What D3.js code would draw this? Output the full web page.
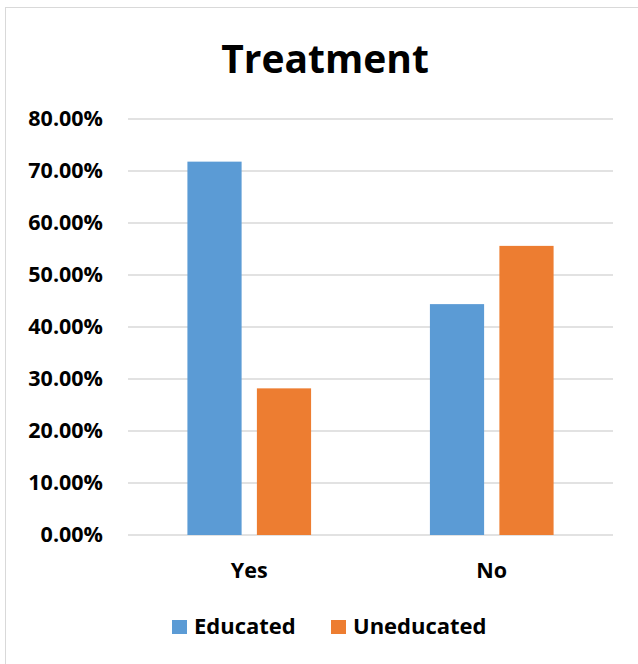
<!DOCTYPE html>
<html><head><meta charset="utf-8">
<script src="https://cdn.jsdelivr.net/npm/d3@7"></script>
<style>body{margin:0;background:#fff;} svg{display:block;}</style>
</head><body>
<svg id="chart" width="638" height="664"></svg>
<script>
const categories = ["Yes", "No"];
const seriesNames = ["Educated", "Uneducated"];
const educated = [0.718, 0.444];
const uneducated = [0.282, 0.556];
const yTicks = [0, 0.1, 0.2, 0.3, 0.4, 0.5, 0.6, 0.7, 0.8];
const colors = ["#5B9BD5", "#ED7D31"];
const title = "Treatment";

const FONT = "'Open Sans', Lato, sans-serif";
const svg = d3.select("#chart");
svg.append("rect").attr("x", 5.5).attr("y", 7.5).attr("width", 640).attr("height", 670)
  .attr("fill", "#fff").attr("stroke", "#d9d9d9").attr("stroke-width", 1);

const x0 = d3.scaleBand().domain(categories).range([128, 613]).paddingInner(0.49).paddingOuter(0.245);
const x1 = d3.scaleBand().domain(seriesNames).range([0, x0.bandwidth()]).paddingInner(0.22);
const y = d3.scaleLinear().domain([0, 0.8]).range([535, 119]);

// gridlines
svg.append("g").selectAll("line").data(yTicks).join("line")
  .attr("x1", 128).attr("x2", 613)
  .attr("y1", d => y(d)).attr("y2", d => y(d))
  .attr("stroke", "#d9d9d9").attr("stroke-width", 1.5);

// y axis
const yAxis = d3.axisLeft(y).tickValues(yTicks).tickFormat(d3.format(".2%")).tickSize(0).tickPadding(0);
const ga = svg.append("g").attr("transform", "translate(103,0)").call(yAxis);
ga.select(".domain").remove();
ga.selectAll("text").attr("font-family", FONT).attr("font-weight", "bold").attr("font-size", 21.5).attr("fill", "#000");

// x axis
const xAxis = d3.axisBottom(x0).tickSize(0).tickPadding(0);
const gx = svg.append("g").attr("transform", "translate(0,535)").call(xAxis);
gx.select(".domain").remove();
gx.selectAll("text").attr("font-family", FONT).attr("font-weight", "bold").attr("font-size", 21.5).attr("fill", "#000")
  .attr("dy", null).attr("y", 43);

// bars
const data = categories.map((c, i) => ({cat: c, vals: [educated[i], uneducated[i]]}));
svg.append("g").selectAll("g").data(data).join("g")
  .attr("transform", d => `translate(${x0(d.cat)},0)`)
  .selectAll("rect").data(d => d.vals.map((v, j) => ({s: seriesNames[j], v, j}))).join("rect")
  .attr("x", d => x1(d.s)).attr("width", x1.bandwidth())
  .attr("y", d => y(d.v)).attr("height", d => y(0) - y(d.v))
  .attr("fill", d => colors[d.j]);

// title
svg.append("text").attr("x", 325).attr("y", 73).attr("text-anchor", "middle")
  .attr("font-family", FONT).attr("font-weight", "bold").attr("font-size", 39).attr("fill", "#000").text(title);

// legend
const legendX = [172, 331];
const lg = svg.append("g").selectAll("g").data(seriesNames).join("g")
  .attr("transform", (d, i) => `translate(${legendX[i]},620)`);
lg.append("rect").attr("width", 15).attr("height", 14).attr("fill", (d, i) => colors[i]);
lg.append("text").attr("x", 22).attr("y", 14).attr("font-family", FONT).attr("font-weight", "bold")
  .attr("font-size", 22).attr("fill", "#000").text(d => d);
</script>
</body></html>
